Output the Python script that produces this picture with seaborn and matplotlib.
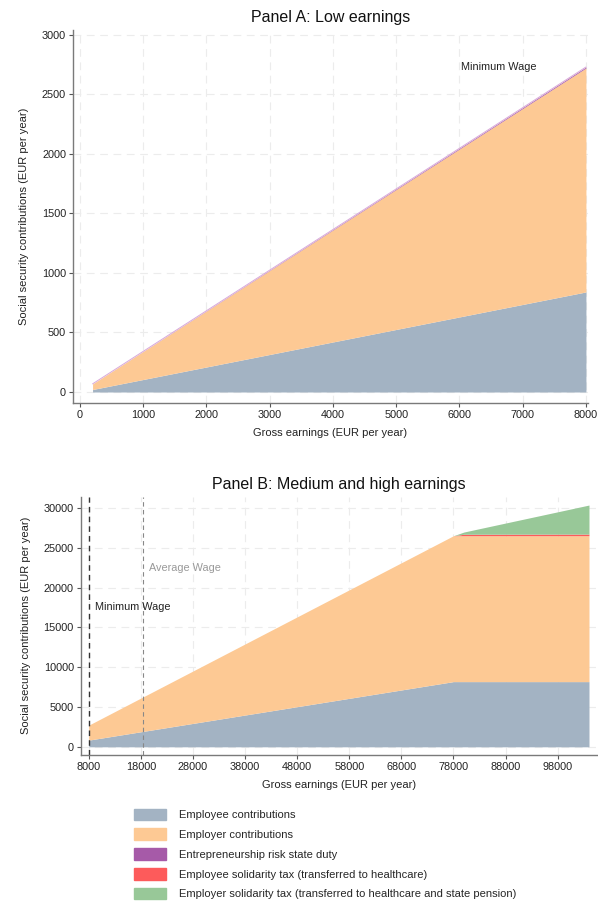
import matplotlib
matplotlib.use("Agg")
import matplotlib.pyplot as plt
from matplotlib.patches import Patch
import seaborn as sns
import numpy as np

# ---------------- data ----------------
# Panel A: low earnings
low_x = [200, 1000, 2000, 3000, 4000, 5000, 6000, 7000, 8000]
low_employee = [21, 105, 210, 315, 420, 525, 630, 735, 840]
low_employer = [47, 235, 470, 705, 940, 1175, 1410, 1645, 1880]
low_risk = [0.2, 1, 2, 3, 4, 5, 6, 7, 8]

# Panel B: medium and high earnings
high_x = [8000, 18000, 28000, 38000, 48000, 58000, 68000, 78000, 80000, 88000, 98000, 104000]
high_employee = [840, 1890, 2940, 3990, 5040, 6090, 7140, 8190, 8190, 8190, 8190, 8190]
high_employer = [1880, 4230, 6580, 8930, 11280, 13630, 15980, 18330, 18330, 18330, 18330, 18330]
high_risk = [0, 0, 0, 0, 0, 0, 0, 0, 0, 0, 0, 0]
high_emp_solidarity = [0, 0, 0, 0, 0, 0, 0, 0, 180, 190, 200, 200]
high_er_solidarity = [0, 0, 0, 0, 0, 0, 0, 0, 280, 1400, 2800, 3650]

min_wage = 8000
avg_wage = 18400

labels = ["Employee contributions", "Employer contributions",
          "Entrepreneurship risk state duty",
          "Employee solidarity tax (transferred to healthcare)",
          "Employer solidarity tax (transferred to healthcare and state pension)"]
colors = ["#a3b3c3", "#fdc994", "#a65aa8", "#fd5b5b", "#98c898"]

low_xticks = [0, 1000, 2000, 3000, 4000, 5000, 6000, 7000, 8000]
low_yticks = [0, 500, 1000, 1500, 2000, 2500, 3000]
high_xticks = [8000, 18000, 28000, 38000, 48000, 58000, 68000, 78000, 88000, 98000]
high_yticks = [0, 5000, 10000, 15000, 20000, 25000, 30000]

# ---------------- style ----------------
sns.set_style("white")
plt.rcParams['font.family'] = ['Liberation Sans', 'DejaVu Sans']

fig = plt.figure(figsize=(5.98, 9.05), dpi=100)
axA = fig.add_axes([0.122, 0.555, 0.861, 0.412])
axB = fig.add_axes([0.135, 0.166, 0.863, 0.285])


def style_axes(ax, xticks, yticks):
    ax.set_xticks(xticks)
    ax.set_yticks(yticks)
    ax.grid(True, color="#ececec", linestyle=(0, (7, 5)), linewidth=0.8)
    ax.set_axisbelow(True)
    for s in ["top", "right"]:
        ax.spines[s].set_visible(False)
    for s in ["left", "bottom"]:
        ax.spines[s].set_color("#7a7a7a")
        ax.spines[s].set_linewidth(1.0)
    ax.tick_params(axis="both", which="both", direction="out", length=3,
                   width=0.8, color="#555555", labelsize=7.8, pad=2,
                   labelcolor="#222222", bottom=True, left=True)
    ax.set_xlabel("Gross earnings (EUR per year)", fontsize=8, labelpad=6, color="#222222")
    ax.set_ylabel("Social security contributions (EUR per year)", fontsize=8,
                  labelpad=9, color="#222222")


# Panel A
axA.stackplot(low_x, low_employee, low_employer, low_risk,
              colors=colors[:3], linewidth=0)
sns.lineplot(x=low_x, y=np.array(low_employee) + np.array(low_employer) + np.array(low_risk),
             ax=axA, color="#d9a9d9", linewidth=0.7)
style_axes(axA, low_xticks, low_yticks)
axA.set_xlim(-110, 8030)
axA.set_ylim(-90, 3040)
axA.set_title("Panel A: Low earnings", fontsize=11.5, pad=6, color="#111111")
axA.text(6020, 2730, "Minimum Wage", fontsize=7.8, color="#222222", va="center", ha="left")

# Panel B
axB.stackplot(high_x, high_employee, high_employer, high_risk,
              high_emp_solidarity, high_er_solidarity,
              colors=colors, linewidth=0)
style_axes(axB, high_xticks, high_yticks)
axB.set_xlim(6470, 105500)
axB.set_ylim(-1000, 31400)
axB.axvline(min_wage, color="#333333", linestyle=(0, (4, 3)), linewidth=1.0)
axB.axvline(avg_wage, color="#888888", linestyle=(0, (4, 3)), linewidth=0.8)
axB.text(min_wage + 1300, 17500, "Minimum Wage", fontsize=7.8, color="#222222", va="center")
axB.text(avg_wage + 1200, 22400, "Average Wage", fontsize=7.8, color="#999999", va="center")
axB.set_title("Panel B: Medium and high earnings", fontsize=11.5, pad=6, color="#111111")

# Legend
handles = [Patch(facecolor=c, edgecolor=c) for c in colors]
fig.legend(handles, labels, loc="upper left", bbox_to_anchor=(0.207, 0.1175),
           frameon=False, fontsize=8, handlelength=2.9, handleheight=1.25,
           handletextpad=1.2, labelspacing=0.72)

fig.savefig("out.png", dpi=100)
